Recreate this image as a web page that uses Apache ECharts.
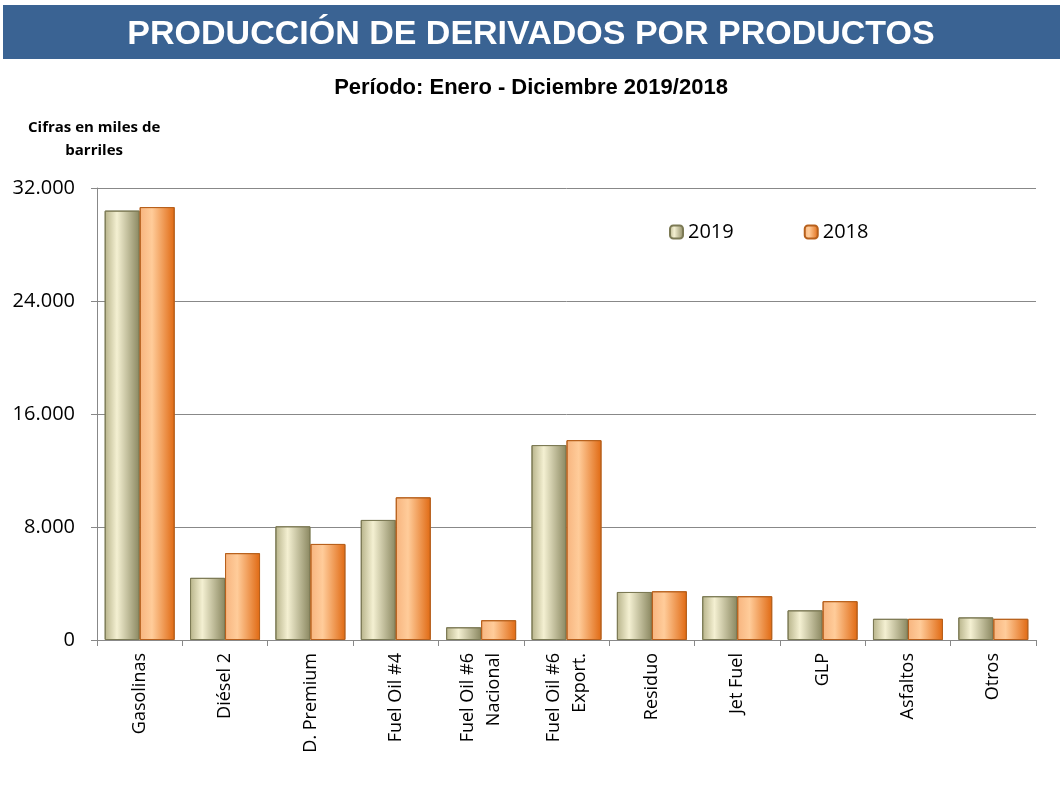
<!DOCTYPE html>
<html>
<head>
<meta charset="utf-8">
<script src="https://cdn.jsdelivr.net/npm/echarts@6/dist/echarts.min.js"></script>
<style>
  html, body { margin: 0; padding: 0; background: #fff; }
  #main { width: 1062px; height: 794px; }
</style>
</head>
<body>
<div id="main"></div>
<script>
// datos (miles de barriles)
var productos = ['Gasolinas', 'Diésel 2', 'D. Premium', 'Fuel Oil #4', 'Fuel Oil #6\nNacional',
  'Fuel Oil #6\nExport.', 'Residuo', 'Jet Fuel', 'GLP', 'Asfaltos', 'Otros'];
var datos2019 = [30400, 4400, 8050, 8500, 900, 13800, 3400, 3100, 2100, 1500, 1600];
var datos2018 = [30650, 6150, 6800, 10100, 1400, 14150, 3450, 3100, 2750, 1500, 1500];
var ejeY = [0, 8000, 16000, 24000, 32000];

var myChart = echarts.init(document.getElementById('main'));

function grad(c1, c2, c3) {
  return new echarts.graphic.LinearGradient(0, 0, 1, 0, [
    { offset: 0, color: c1 },
    { offset: 0.35, color: c2 },
    { offset: 1, color: c3 }
  ]);
}

var option = {
  backgroundColor: '#fff',
  graphic: [{
    type: 'rect',
    shape: { x: 3, y: 5, width: 1057, height: 54 },
    style: { fill: '#3a6393' },
    z: -1
  }, {
    type: 'text',
    left: 28, top: 116,
    style: {
      text: 'Cifras en miles de\nbarriles',
      font: 'bold 15px "Open Sans", sans-serif',
      fill: '#000',
      textAlign: 'center',
      lineHeight: 23
    }
  }],
  title: [{
    text: 'PRODUCCIÓN DE DERIVADOS POR PRODUCTOS',
    left: 'center', top: 13,
    textStyle: { color: '#fff', fontSize: 34, fontWeight: 'bold', fontFamily: 'Liberation Sans, Arial, sans-serif' }
  }, {
    text: 'Período: Enero - Diciembre 2019/2018',
    left: 'center', top: 72,
    textStyle: { color: '#000', fontSize: 22, fontWeight: 'bold', fontFamily: 'Liberation Sans, Arial, sans-serif' }
  }],
  legend: {
    left: 664, top: 217,
    itemGap: 70,
    itemWidth: 13, itemHeight: 13,
    textStyle: { fontSize: 20, color: '#000', fontFamily: '"Open Sans", sans-serif' },
    data: ['2019', '2018']
  },
  grid: { left: 97, right: 26, top: 188, bottom: 154 },
  xAxis: {
    type: 'category',
    data: productos,
    axisLine: { lineStyle: { color: '#888' } },
    axisTick: { show: true, length: 6, lineStyle: { color: '#888' } },
    axisLabel: {
      rotate: 90, interval: 0, margin: 13,
      fontSize: 18, color: '#000', lineHeight: 26,
      fontFamily: '"Open Sans", sans-serif'
    }
  },
  yAxis: {
    type: 'value',
    min: ejeY[0], max: ejeY[ejeY.length - 1], interval: 8000,
    axisLine: { show: true, lineStyle: { color: '#888' } },
    axisTick: { show: true, length: 6, lineStyle: { color: '#888' } },
    splitLine: { lineStyle: { color: '#888' } },
    axisLabel: {
      fontSize: 20, color: '#000', margin: 22,
      fontFamily: '"Open Sans", sans-serif',
      formatter: function (v) { return v === 0 ? '0' : (v / 1000).toFixed(3); }
    }
  },
  series: [{
    name: '2019',
    type: 'bar',
    data: datos2019,
    barWidth: 35,
    barGap: '0%',
    itemStyle: {
      color: grad('#b7b38a', '#f4f0d2', '#8a8760'),
      borderColor: '#7c7a55', borderWidth: 1
    }
  }, {
    name: '2018',
    type: 'bar',
    data: datos2018,
    barWidth: 35,
    itemStyle: {
      color: grad('#f7b47e', '#ffcc9a', '#e06912'),
      borderColor: '#b7601c', borderWidth: 1
    }
  }]
};

myChart.setOption(option);
</script>
</body>
</html>
